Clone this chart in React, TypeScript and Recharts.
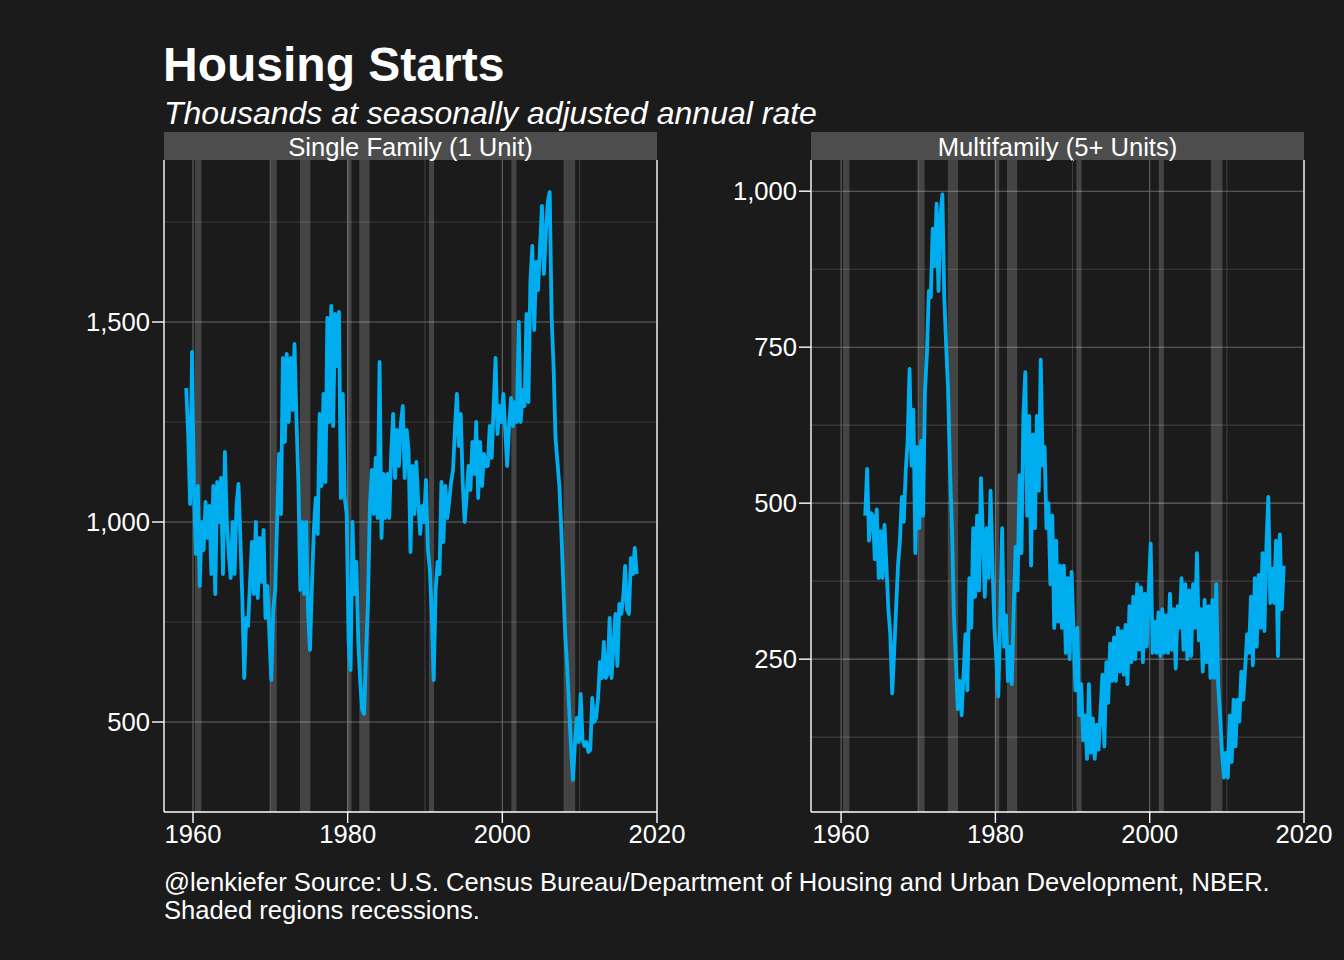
import React from "react";
import {
  CartesianGrid,
  Line,
  LineChart,
  ReferenceArea,
  ReferenceLine,
  XAxis,
  YAxis,
} from "recharts";

// quarterly readings, single family starts from 1959 Q1
const singleStart = 1959;
const singleFamily = [
  1335, 1220, 1045, 1425, // 1959
  1080, 920, 1090, 840,
  1000, 930, 1050, 960,
  1040, 870, 1090, 820,
  1100, 1000, 1110, 870,
  1175, 1000, 920, 860, // 1964
  1000, 870, 1040, 1095,
  960, 810, 610, 760,
  740, 850, 950, 820,
  1000, 810, 960, 850,
  980, 760, 840, 720, // 1969
  605, 780, 830, 1000,
  1170, 1020, 1410, 1200,
  1420, 1250, 1410, 1280,
  1445, 1260, 1100, 830,
  1000, 820, 1000, 775, // 1974
  680, 840, 980, 1060,
  970, 1270, 1090, 1320,
  1100, 1510, 1250, 1540,
  1240, 1520, 1390, 1525,
  1060, 1320, 1060, 1020, // 1979
  700, 630, 1000, 820,
  900, 700, 600, 530,
  520, 670, 800, 1040,
  1130, 1020, 1160, 1010,
  1400, 960, 1120, 1010, // 1984
  1120, 1010, 1170, 1270,
  1110, 1230, 1140, 1245,
  1290, 1110, 1230, 1180,
  925, 1140, 1020, 1150,
  1050, 970, 1040, 1000, // 1989
  1105, 930, 880, 770,
  605, 830, 900, 870,
  1100, 950, 1090, 1010,
  1050, 1100, 1130, 1235,
  1320, 1190, 1270, 1100, // 1994
  1000, 1060, 1140, 1080,
  1200, 1120, 1250, 1060,
  1200, 1090, 1170, 1140,
  1140, 1240, 1160, 1290,
  1410, 1220, 1290, 1250, // 1999
  1320, 1230, 1140, 1240,
  1310, 1240, 1300, 1250,
  1500, 1250, 1330, 1290,
  1520, 1300, 1600, 1690,
  1480, 1650, 1580, 1690, // 2004
  1790, 1620, 1720, 1800,
  1825, 1510, 1390, 1210,
  1150, 1090, 980, 850,
  720, 640, 540, 440,
  355, 440, 510, 450, // 2009
  570, 455, 440, 450,
  425, 430, 560, 500,
  510, 560, 650, 610,
  700, 610, 620, 760,
  610, 690, 770, 640, // 2014
  795, 770, 810, 890,
  780, 770, 910, 870,
  935, 870, // 2017
];

// quarterly readings, multifamily (5+ units) starts from 1963 Q1
const multiStart = 1963;
const multiFamily = [
  480, 555, 440, 484, // 1963
  480, 410, 490, 380, // 1964
  455, 380, 465, 400,
  330, 290, 195, 260,
  330, 400, 440, 510,
  470, 550, 600, 715, // 1968
  560, 650, 420, 590,
  460, 600, 480, 680,
  740, 840, 830, 940,
  880, 980, 840, 960,
  995, 830, 750, 680, // 1973
  550, 460, 320, 250,
  170, 215, 160, 225,
  290, 200, 380, 300,
  460, 350, 480, 360,
  540, 450, 350, 460, // 1978
  380, 520, 400, 300,
  250, 190, 320, 460,
  270, 320, 215, 270,
  210, 330, 430, 360,
  545, 420, 640, 710, // 1983
  480, 640, 400, 610,
  460, 640, 520, 730,
  560, 590, 460, 500,
  370, 480, 300, 440,
  310, 400, 300, 400, // 1988
  260, 380, 250, 390,
  300, 200, 300, 160,
  210, 120, 160, 90,
  210, 100, 155, 90,
  145, 105, 165, 225, // 1993
  110, 245, 180, 275,
  215, 285, 215, 300,
  230, 295, 225, 305,
  210, 335, 245, 350,
  250, 370, 265, 365, // 1998
  245, 355, 270, 360,
  435, 260, 310, 260,
  325, 255, 330, 260,
  320, 260, 355, 265,
  330, 235, 335, 300, // 2003
  380, 265, 370, 250,
  360, 255, 370, 300,
  420, 280, 330, 230,
  345, 245, 335, 220,
  345, 220, 370, 210, // 2008
  160, 100, 60, 100,
  60, 160, 85, 185,
  110, 185, 150, 230,
  185, 235, 290, 260,
  350, 240, 380, 270, // 2013
  385, 300, 420, 295,
  430, 510, 340, 395,
  340, 440, 255, 450,
  330, 400, // 2017
];

// NBER recessions, peak to trough
const recessionStarts = [1960.25, 1969.92, 1973.83, 1980.0, 1981.5, 1990.5, 2001.17, 2007.92];
const recessionEnds = [1961.08, 1970.83, 1975.17, 1980.5, 1982.83, 1991.17, 2001.83, 2009.42];

const yearTicks = [1960, 1980, 2000, 2020];
const yearMajor = [1960, 1980, 2000];
const yearMinor = [1970, 1990, 2010];

const singleTicks = [500, 1000, 1500];
const singleMinor = [750, 1250, 1750];
const multiTicks = [250, 500, 750, 1000];
const multiMinor = [125, 375, 625, 875];

const FONT = "'Liberation Sans', Arial, Helvetica, sans-serif";
const BG = "#1b1b1b";
const LINE = "#00aeef";

function toRows(start: number, values: number[]) {
  return values.map((v, i) => ({ t: start + i / 4 + 0.125, v }));
}

type PanelProps = {
  title: string;
  left: number;
  width: number;
  marginLeft: number;
  marginRight: number;
  plotLeft: number;
  plotWidth: number;
  xMin: number;
  data: { t: number; v: number }[];
  yDomain: [number, number];
  yTicks: number[];
  yMinor: number[];
};

function Panel(p: PanelProps) {
  const tickStyle = { fill: "#ffffff", fontSize: 25.6, fontFamily: FONT };
  return (
    <>
      <div
        style={{
          position: "absolute",
          left: p.plotLeft,
          top: 132,
          width: p.plotWidth,
          height: 28,
          background: "#4d4d4d",
          color: "#ffffff",
          fontFamily: FONT,
          fontSize: 25.6,
          lineHeight: "31px",
          textAlign: "center",
        }}
      >
        {p.title}
      </div>
      <div style={{ position: "absolute", left: p.left, top: 160 }}>
        <LineChart
          width={p.width}
          height={712}
          data={p.data}
          margin={{ top: 0, right: p.marginRight, bottom: 0, left: p.marginLeft }}
        >
          <CartesianGrid
            stroke="#3d3d3d"
            strokeWidth={1.1}
            horizontalValues={p.yMinor}
            verticalValues={yearMinor}
          />
          <CartesianGrid
            stroke="#676767"
            strokeWidth={1.1}
            horizontalValues={p.yTicks}
            verticalValues={yearMajor}
          />
          {recessionStarts.map((s, i) => (
            <ReferenceArea
              key={s}
              x1={s}
              x2={recessionEnds[i]}
              fill="#ffffff"
              fillOpacity={0.18}
              stroke="none"
            />
          ))}
          <XAxis
            type="number"
            dataKey="t"
            domain={[p.xMin, 2020]}
            ticks={yearTicks}
            allowDataOverflow
            height={60}
            tickSize={11}
            tickMargin={2}
            axisLine={{ stroke: "#ffffff", strokeWidth: 1.4 }}
            tickLine={{ stroke: "#ffffff", strokeWidth: 1.4 }}
            tick={tickStyle}
          />
          <YAxis
            type="number"
            domain={p.yDomain}
            ticks={p.yTicks}
            allowDataOverflow
            width={100}
            tickSize={12}
            tickMargin={2}
            interval={0}
            tickFormatter={(v: number) => v.toLocaleString("en-US")}
            axisLine={{ stroke: "#ffffff", strokeWidth: 1.4 }}
            tickLine={{ stroke: "#ffffff", strokeWidth: 1.4 }}
            tick={tickStyle}
          />
          <ReferenceLine x={2020} stroke="#ffffff" strokeWidth={1.4} />
          <Line
            type="linear"
            dataKey="v"
            stroke={LINE}
            strokeWidth={3.8}
            strokeLinejoin="round"
            dot={false}
            isAnimationActive={false}
          />
        </LineChart>
      </div>
    </>
  );
}

export default function App() {
  const singleRows = toRows(singleStart, singleFamily);
  const multiRows = toRows(multiStart, multiFamily);

  return (
    <div
      style={{
        position: "fixed",
        left: 0,
        top: 0,
        width: 1344,
        height: 960,
        background: BG,
        fontFamily: FONT,
        color: "#ffffff",
        overflow: "hidden",
      }}
    >
      <div
        style={{
          position: "absolute",
          left: 163,
          top: 41,
          fontSize: 48,
          fontWeight: 700,
          lineHeight: "48px",
          whiteSpace: "nowrap",
        }}
      >
        Housing Starts
      </div>
      <div
        style={{
          position: "absolute",
          left: 164,
          top: 96,
          fontSize: 32,
          fontStyle: "italic",
          lineHeight: "34px",
          whiteSpace: "nowrap",
        }}
      >
        Thousands at seasonally adjusted annual rate
      </div>

      <Panel
        title="Single Family (1 Unit)"
        left={0}
        width={700}
        marginLeft={64}
        marginRight={43}
        plotLeft={164}
        plotWidth={493}
        xMin={1956.25}
        data={singleRows}
        yDomain={[275, 1905]}
        yTicks={singleTicks}
        yMinor={singleMinor}
      />
      <Panel
        title="Multifamily (5+ Units)"
        left={700}
        width={644}
        marginLeft={11}
        marginRight={40}
        plotLeft={811}
        plotWidth={493}
        xMin={1956.1}
        data={multiRows}
        yDomain={[5, 1050]}
        yTicks={multiTicks}
        yMinor={multiMinor}
      />

      <div
        style={{
          position: "absolute",
          left: 164,
          top: 868,
          fontSize: 25.6,
          lineHeight: "28px",
          whiteSpace: "nowrap",
        }}
      >
        @lenkiefer Source: U.S. Census Bureau/Department of Housing and Urban Development, NBER.
        <br />
        Shaded regions recessions.
      </div>
    </div>
  );
}
